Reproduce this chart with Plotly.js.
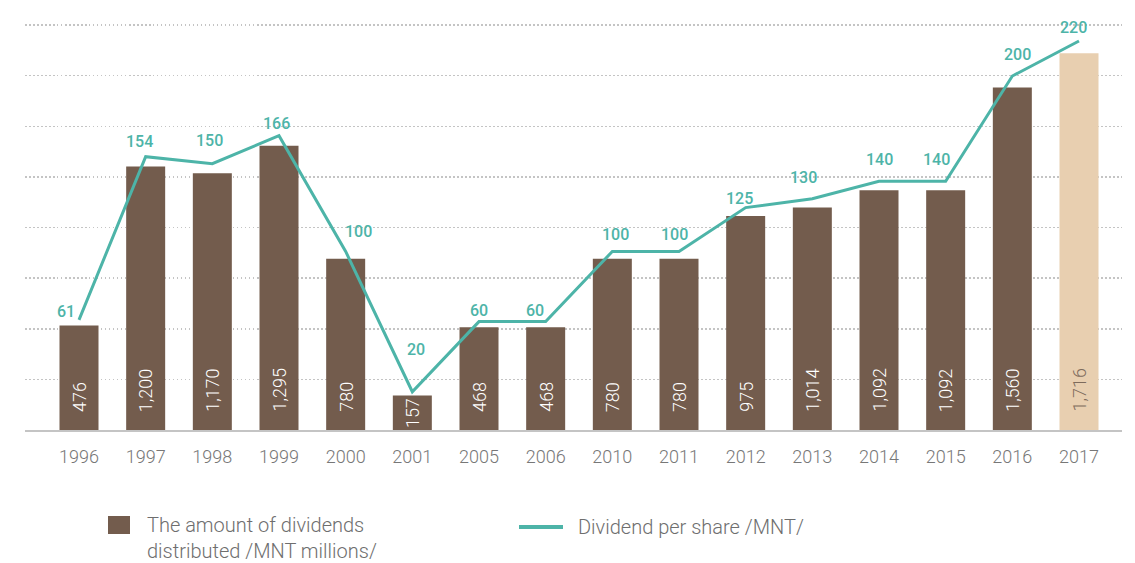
<!DOCTYPE html>
<html><head><meta charset="utf-8">
<script src="https://cdn.plot.ly/plotly-3.0.1.min.js"></script>
<style>html,body{margin:0;padding:0;background:#fff}</style>
</head><body><div id="chart" style="width:1135px;height:563px"></div>
<script>
const years = ['1996','1997','1998','1999','2000','2001','2005','2006','2010','2011','2012','2013','2014','2015','2016','2017'];
const dividendsTotal = [476,1200,1170,1295,780,157,468,468,780,780,975,1014,1092,1092,1560,1716];
const dividendPerShare = [61,154,150,166,100,20,60,60,100,100,125,130,140,140,200,220];
const highlightYear = '2017';
const legendBarText = 'The amount of dividends<br>distributed /MNT millions/';
const legendLineText = 'Dividend per share /MNT/';

// label placement (style): pixel offsets of each per-share label from its point
const lineLabelDx = [-13, -6, -3, -3, 13, 4, 0, -11, 3, -5, -6, -9, 0, -9, 5, -6];
const lineLabelDy = [8, 15, 23, 12, 20, 42, 11, 11, 17, 17, 9, 21, 22, 22, 22, 13];

const BROWN = '#735c4d', BEIGE = '#e8cfb0', TEAL = '#4db4a8';
const barLabels = dividendsTotal.map(v => v.toLocaleString('en-US'));
const barColors = years.map(y => y === highlightYear ? BEIGE : BROWN);
const barLabelColors = years.map(y => y === highlightYear ? '#7d6b5c' : '#ffffff');

const bars = {
  type: 'bar', x: years, y: dividendsTotal,
  marker: {color: barColors}, hoverinfo: 'none', showlegend: false
};
const line = {
  type: 'scatter', mode: 'lines', x: years, y: dividendPerShare, yaxis: 'y2',
  line: {color: TEAL, width: 3}, cliponaxis: false, hoverinfo: 'none', showlegend: false
};

const annotations = [];
years.forEach((y, i) => {
  const v = dividendsTotal[i];
  const tall = v >= 300;
  annotations.push({
    x: i, y: tall ? 0 : v / 2, xref: 'x', yref: 'y',
    yanchor: tall ? 'bottom' : 'middle', yshift: tall ? 16 : 0,
    textangle: -90, showarrow: false, text: barLabels[i],
    font: {family: 'Roboto', size: 18, color: barLabelColors[i], weight: 300}
  });
  annotations.push({
    x: i, y: dividendPerShare[i], xref: 'x', yref: 'y2',
    xanchor: 'center', yanchor: 'middle',
    xshift: lineLabelDx[i], yshift: lineLabelDy[i],
    showarrow: false, text: String(dividendPerShare[i]),
    font: {family: 'Roboto', size: 16, color: TEAL, weight: 500}
  });
});

// Legend (manual)
const PX = x => (x - 25) / 1097;
const PY = y => (430 - y) / 408;
annotations.push({
  xref: 'paper', yref: 'paper', x: PX(145), y: PY(511), xanchor: 'left', yanchor: 'top',
  align: 'left', showarrow: false, text: legendBarText,
  font: {family: 'Roboto', size: 20, color: '#6e6e6e', weight: 300}
});
annotations.push({
  xref: 'paper', yref: 'paper', x: PX(576), y: PY(527), xanchor: 'left', yanchor: 'middle',
  align: 'left', showarrow: false, text: legendLineText,
  font: {family: 'Roboto', size: 20, color: '#6e6e6e', weight: 300}
});
const shapes = [
  {type: 'rect', xref: 'paper', yref: 'paper', x0: PX(108), x1: PX(130), y0: PY(534), y1: PY(516),
   fillcolor: BROWN, line: {width: 0}},
  {type: 'line', xref: 'paper', yref: 'paper', x0: PX(519), x1: PX(563), y0: PY(527), y1: PY(527),
   line: {color: TEAL, width: 4}}
];

const layout = {
  width: 1135, height: 563,
  margin: {l: 25, r: 13, t: 22, b: 133},
  paper_bgcolor: '#fff', plot_bgcolor: '#fff',
  bargap: 0.415,
  xaxis: {
    type: 'category', range: [-0.81, 15.645], showgrid: false,
    showline: true, linecolor: '#c4c4c4', linewidth: 2, ticks: '',
    tickfont: {family: 'Roboto', size: 18, color: '#777', weight: 300},
    ticklabelstandoff: 9, fixedrange: true
  },
  yaxis: {
    range: [0, 1845 * 408 / 405], tick0: 0, dtick: 1845 / 8, showticklabels: false,
    gridcolor: '#c4c4c4', griddash: '1.5px,2.5px', gridwidth: 1.5, zeroline: false, fixedrange: true
  },
  yaxis2: {
    overlaying: 'y', range: [-1.8, -1.8 + 408 / 1.754], showgrid: false, showticklabels: false,
    zeroline: false, fixedrange: true
  },
  annotations: annotations, shapes: shapes, showlegend: false
};

Plotly.newPlot('chart', [bars, line], layout, {displayModeBar: false, staticPlot: true});
</script>
</body></html>
